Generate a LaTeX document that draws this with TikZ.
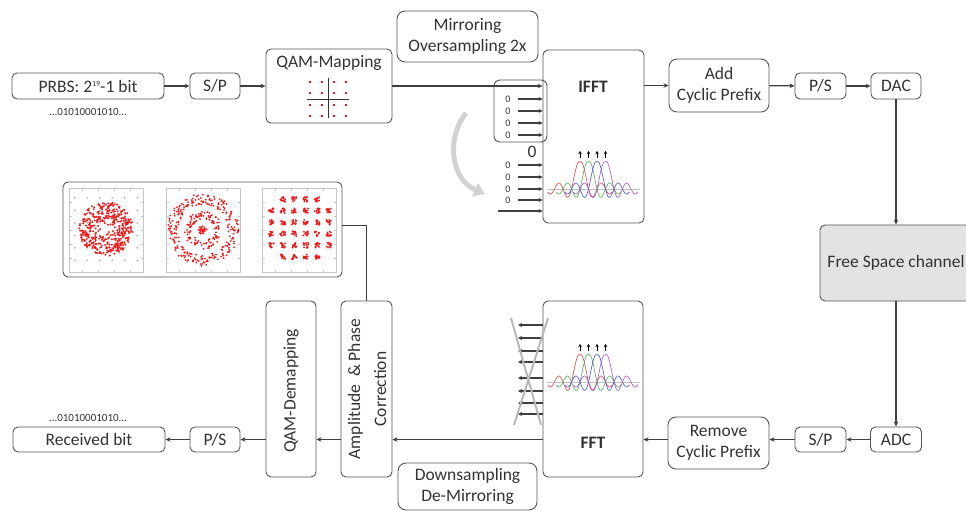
\documentclass[tikz,border=0pt]{standalone}
\usepackage{fontspec}
\setmainfont{Carlito}
\usetikzlibrary{arrows.meta}
\definecolor{ln}{HTML}{3F3F3F}
\definecolor{bx}{HTML}{555555}
\definecolor{fsfill}{HTML}{E3E3E3}
\definecolor{cr}{HTML}{E8403F}
\definecolor{cg}{HTML}{49B050}
\definecolor{cb}{HTML}{4650E0}
\definecolor{cp}{HTML}{A850D0}
\definecolor{dot}{HTML}{F01818}
\newcommand{\mainfs}{\fontsize{17.5}{21}\selectfont}
\newcommand{\smallfs}{\fontsize{11}{13}\selectfont}
\newcommand{\zerofs}{\fontsize{10}{12}\selectfont}
\newcommand{\mypulses}[1]{%
  \draw[gray!50, line width=0.5pt] (547,#1) -- (640,#1);
  \foreach \xo/\c in {580/cr,588.5/cg,597/cb,605.5/cp} {
    \draw[\c, line width=0.6pt] plot[domain=-3.79:3.81, samples=90, smooth]
      ({\xo+8.5*\x}, {#1 - 27*sin(180*\x)/(3.14159*\x)*(1+0.3*abs(\x))});
    \draw[black, -{Stealth[length=3pt,width=3.5pt]}, line width=0.7pt] (\xo,#1-31) -- (\xo,#1-38);
  }}
\begin{document}
\begin{tikzpicture}[x=1pt,y=-1pt,
  blk/.style={draw=bx, line width=0.9pt, rounded corners=5pt, align=center, inner sep=0pt, font=\mainfs, text=black!80},
  blk2/.style={blk, rounded corners=8pt},
  lbl/.style={font=\mainfs, text=black!80, inner sep=0pt},
  conn/.style={draw=ln, line width=1.3pt},
  arr/.style={conn, -{Stealth[length=5pt,width=4.5pt]}},
  zarr/.style={draw=ln, line width=1.3pt, -{Stealth[length=4pt,width=4pt]}},
  panel/.style={draw=gray!45, line width=0.5pt}]
\useasboundingbox (0,0) rectangle (966,511);

% ---------- transmitter ----------
\node[blk, minimum width=152, minimum height=26] (prbs) at (88,86) {PRBS: 2\raisebox{6pt}{\fontsize{8}{8}\selectfont 19}-1 bit};
\node[font=\smallfs, text=black!80] (bits1) at (88,112) {...01010001010...};
\node[blk, minimum width=50, minimum height=26] (sp1) at (215,86) {S/P};
\node[blk, minimum width=126, minimum height=74] (qam) at (329,86) {};
\node[lbl] (qamt) at (329,63) {QAM-Mapping};
\draw[black!80, line width=0.8pt] (328,78) -- (328,118) (307,99) -- (349,99);
\foreach \i in {310,322,334,346} \foreach \j in {82,93,105,116}
  \fill[dot] (\i-1.1,\j-1.1) rectangle ++(2.2,2.2);
\node[blk2, minimum width=141, minimum height=51] (mirr) at (467.5,36.5) {Mirroring\\Oversampling 2x};
\node[blk, minimum width=101, minimum height=173] (ifft) at (593.5,136.5) {};
\node[lbl, font=\mainfs\bfseries] (ifftt) at (593,87) {IFFT};
\node[blk2, minimum width=100, minimum height=53] (addcp) at (719,85.5) {Add\\Cyclic Prefix};
\node[blk, minimum width=51, minimum height=26] (ps1) at (820.5,86) {P/S};
\node[blk, minimum width=50, minimum height=26] (dac) at (896,86) {DAC};

% zero padding
\node[draw=bx, line width=0.9pt, rounded corners=6pt, minimum width=53, minimum height=62, inner sep=0pt] (zbox) at (520.5,111) {};
\foreach \y in {99,111,123,135,165,177,189,200} {
  \node[font=\zerofs, text=black!80] at (508,\y) {0};
  \draw[zarr] (518,\y) -- (ifft.west |- 0,\y);
}
\draw[zarr] (498,211) -- (ifft.west |- 0,211);
\node[lbl] (bigzero) at (532,152) {0};
\coordinate (ga) at (466,113);
\coordinate (gb) at (485,194);
\draw[line width=5pt, color=gray!35, -{Triangle[length=11pt,width=14pt]}] (ga) .. controls (445,140) and (452,180) .. (gb);
\mypulses{189}

% ---------- channel ----------
\node[blk, fill=fsfill, minimum width=152, minimum height=76] (fsc) at (896,263) {Free Space channel};

% ---------- receiver ----------
\node[blk, minimum width=51, minimum height=25] (adc) at (896,439.5) {ADC};
\node[blk, minimum width=51, minimum height=25] (sp2) at (820.5,439.5) {S/P};
\node[blk2, minimum width=101, minimum height=52] (rmcp) at (718.5,443) {Remove\\Cyclic Prefix};
\node[blk, minimum width=100, minimum height=176] (fft) at (593,389) {};
\node[lbl, font=\mainfs\bfseries] (fftt) at (593,443) {FFT};
\mypulses{382}
\foreach \y in {325,338,351,362,378,391,403,414}
  \draw[zarr] (fft.west |- 0,\y) -- (518,\y);
\draw[gray!55, line width=2pt] (511,318) -- (541,425) (548,318) -- (514,425);
\node[blk2, minimum width=139, minimum height=47] (down) at (467.5,486.5) {Downsampling\\De-Mirroring};
\node[blk, minimum width=51, minimum height=176] (amp) at (366.5,389) {};
\node[lbl, rotate=90, align=center, font=\fontsize{17.5}{26}\selectfont] (ampt) at (367,389) {Amplitude \ \& Phase\\Correction};
\node[blk, minimum width=50, minimum height=176] (qdm) at (291,389) {};
\node[lbl, rotate=90] (qdmt) at (291,391) {QAM-Demapping};
\node[blk, minimum width=50, minimum height=25] (ps2) at (215,439.5) {P/S};
\node[blk, minimum width=152, minimum height=25] (rx) at (89,439.5) {Received bit};
\node[font=\smallfs, text=black!80] (bits2) at (88,418) {...01010001010...};

% constellations
\node[blk, minimum width=279, minimum height=95] (cons) at (202.5,229.5) {};
\foreach \px in {106,203,299.5} {
  \draw[panel] (\px-37,188) rectangle (\px+37,272);
  \foreach \t in {-24,-8,8,24} {
    \draw[panel] (\px+\t,188) -- (\px+\t,190.5) (\px+\t,272) -- (\px+\t,269.5);
  }
  \foreach \t in {-28,-14,0,14,28} {
    \draw[panel] (\px-37,230+\t) -- (\px-34.5,230+\t) (\px+37,230+\t) -- (\px+34.5,230+\t);
  }
}
\pgfmathsetseed{7}
\foreach \i in {-2.5,-1.5,-0.5,0.5,1.5,2.5} \foreach \j in {-2.5,-1.5,-0.5,0.5,1.5,2.5}
  \fill[gray!60] ({106+12.5*\i},{229+12.5*\j}) circle[radius=1pt];
\foreach \k in {1,...,420} {
  \pgfmathsetmacro\r{4+23*sqrt(rnd)}
  \pgfmathsetmacro\a{360*rnd}
  \fill[dot] ({106+\r*cos(\a)},{229+\r*sin(\a)}) circle[radius=1.1pt];
}
\foreach \k in {1,...,260} {
  \pgfmathsetmacro\r{25+11*rnd}
  \pgfmathsetmacro\a{360*rnd}
  \fill[dot] ({203+\r*cos(\a)},{230+\r*sin(\a)}) circle[radius=1pt];
}
\foreach \k in {1,...,120} {
  \pgfmathsetmacro\r{11+8*rnd}
  \pgfmathsetmacro\a{360*rnd}
  \fill[dot] ({203+\r*cos(\a)},{230+\r*sin(\a)}) circle[radius=1pt];
}
\foreach \k in {1,...,30} {
  \pgfmathsetmacro\r{5*rnd}
  \pgfmathsetmacro\a{360*rnd}
  \fill[dot] ({203+\r*cos(\a)},{230+\r*sin(\a)}) circle[radius=1pt];
}
\foreach \i/\j in {-1.5/-2.5,-0.5/-2.5,0.5/-2.5,1.5/-2.5,
  -2.5/-1.5,-1.5/-1.5,-0.5/-1.5,0.5/-1.5,1.5/-1.5,2.5/-1.5,
  -2.5/-0.5,-1.5/-0.5,-0.5/-0.5,0.5/-0.5,1.5/-0.5,2.5/-0.5,
  -2.5/0.5,-1.5/0.5,-0.5/0.5,0.5/0.5,1.5/0.5,2.5/0.5,
  -2.5/1.5,-1.5/1.5,-0.5/1.5,0.5/1.5,1.5/1.5,2.5/1.5,
  -1.5/2.5,-0.5/2.5,0.5/2.5,1.5/2.5} {
  \foreach \k in {1,...,14} {
    \pgfmathsetmacro\dx{5*(rnd-0.5)}
    \pgfmathsetmacro\dy{5*(rnd-0.5)}
    \fill[dot] ({300+11.5*\i+\dx},{228+11.5*\j+\dy}) circle[radius=1pt];
  }
}

% ---------- connectors ----------
\draw[arr] (prbs) -- (sp1);
\draw[arr] (sp1) -- (qam);
\draw[arr] (qam) -- (qam -| ifft.west);
\draw[arr] (ifft.east |- addcp) -- (addcp);
\draw[arr] (addcp) -- (ps1);
\draw[arr] (ps1) -- (dac);
\draw[arr] (dac) -- (fsc);
\draw[arr] (fsc) -- (adc);
\draw[arr] (adc) -- (sp2);
\draw[arr] (sp2) -- (sp2 -| rmcp.east);
\draw[arr] (rmcp.west |- sp2) -- (fft.east |- sp2);
\draw[arr] (fft.west |- sp2) -- (amp.east |- sp2);
\draw[arr] (amp.west |- sp2) -- (qdm.east |- sp2);
\draw[arr] (qdm.west |- sp2) -- (ps2);
\draw[arr] (ps2) -- (rx);
\draw[conn, line width=1pt] (cons.east |- 0,225) -| (amp.north);
\end{tikzpicture}
\end{document}
